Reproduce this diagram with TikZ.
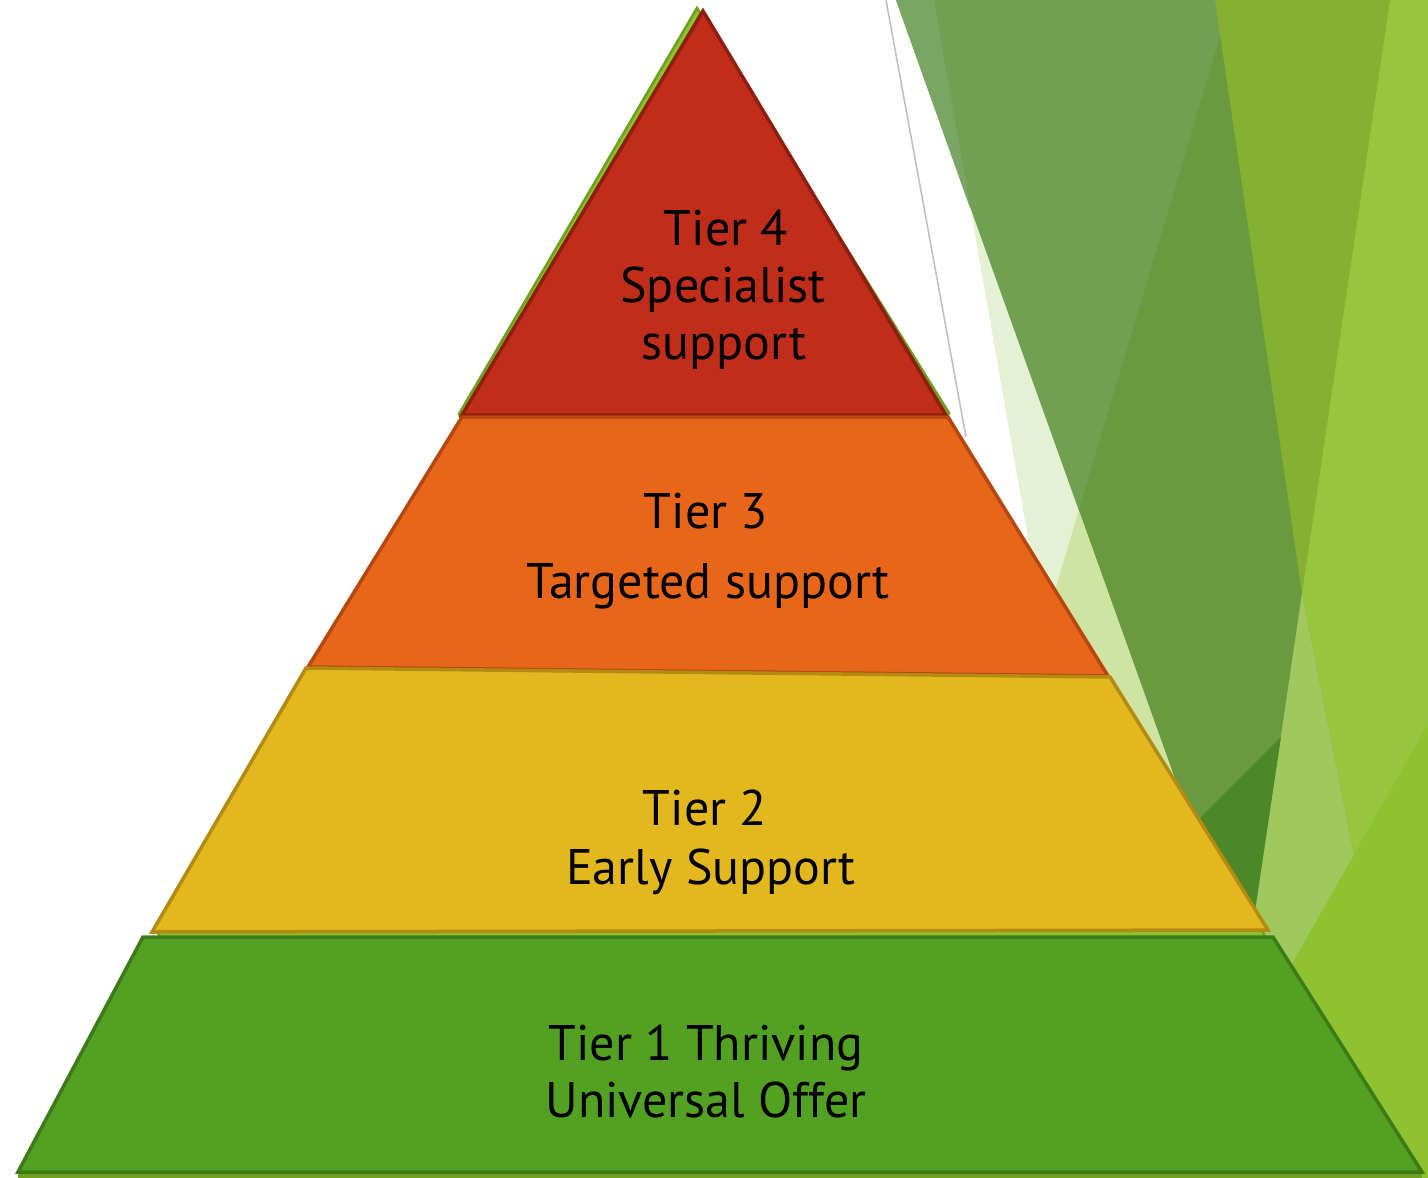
\documentclass[tikz,border=0pt]{standalone}
\usepackage{fontspec}
\setmainfont{PT Sans}
\begin{document}
\begin{tikzpicture}[x=1pt,y=-1pt,
  tierlabel/.style={anchor=base,inner sep=0pt,font=\fontsize{50}{60}\selectfont,text=black},
  tier/.style={line width=3.5pt,line join=miter},
  bgshape/.style={draw=none}]
\useasboundingbox (0,0) rectangle (1428,1178);
\fill[white] (0,0) rectangle (1428,1178);
% ---------- background facets ----------
\fill[bgshape,fill={rgb,255:red,230;green,240;blue,212}] (934,0) -- (1140,1178) -- (1428,1178) -- (1428,0) -- cycle;
\fill[bgshape,fill={rgb,255:red,114;green,160;blue,83}] (896,0) -- (1428,0) -- (1428,1178) -- (1318,1178) -- cycle;
\fill[bgshape,fill={rgb,255:red,122;green,165;blue,98}] (896,0) -- (934,0) -- (970,208) -- cycle;
\fill[bgshape,fill={rgb,255:red,207;green,227;blue,163}] (1079,510) -- (880,1178) -- (1318,1178) -- cycle;
\fill[bgshape,fill={rgb,255:red,106;green,154;blue,64}] (1231,0) -- (1428,0) -- (1428,1178) -- (1318,1178) -- (1079,510) -- cycle;
\fill[bgshape,fill={rgb,255:red,132;green,178;blue,48}] (1215,0) -- (1390,0) -- (1302,593) -- cycle;
\fill[bgshape,fill={rgb,255:red,151;green,197;blue,62}] (1390,0) -- (1428,0) -- (1428,1178) -- (1418,1178) -- (1302,593) -- cycle;
\fill[bgshape,fill={rgb,255:red,159;green,201;blue,94}] (1302,593) -- (1418,1178) -- (1216,1178) -- cycle;
\fill[bgshape,fill={rgb,255:red,76;green,136;blue,40}] (1281,737) -- (1192,826) -- (1245,976) -- cycle;
\fill[bgshape,fill={rgb,255:red,143;green,194;blue,48}] (1428,724) -- (1280,985) -- (1260,1178) -- (1428,1178) -- cycle;
\draw[line width=1.5pt,color={rgb,255:red,190;green,190;blue,190}] (886,0) -- (966,437);
% ---------- pyramid ----------
\fill[fill={rgb,255:red,111;green,160;blue,32}] (18,1174) rectangle (1422,1178);
\filldraw[fill={rgb,255:red,141;green,194;blue,46},draw={rgb,255:red,110;green,159;blue,31},line width=2.5pt]
  (697,8) -- (459,414) -- (462,420) -- (312,668) -- (158,932) -- (160,940) -- (1266,940) -- (1262,930)
  -- (1108,676) -- (946,420) -- (949,413) -- cycle;
\filldraw[tier,fill={rgb,255:red,193;green,45;blue,27},draw={rgb,255:red,142;green,30;blue,16}]
  (703,11) -- (946,415) -- (462,415) -- cycle;
\filldraw[tier,fill={rgb,255:red,232;green,102;blue,26},draw={rgb,255:red,181;green,71;blue,15}]
  (462,417) -- (948,417) -- (1108,676) -- (308,667) -- cycle;
\filldraw[tier,fill={rgb,255:red,227;green,184;blue,31},draw={rgb,255:red,179;green,138;blue,18}]
  (306,668) -- (1110,677) -- (1268,930) -- (152,932) -- cycle;
\filldraw[tier,fill={rgb,255:red,83;green,161;blue,34},draw={rgb,255:red,61;green,122;blue,24}]
  (143,937) -- (1273,937) -- (1422,1172) -- (18,1172) -- cycle;
% ---------- labels ----------
\node[tierlabel] (t4a) at (726,245) {Tier 4};
\node[tierlabel] (t4b) at (723,302) {Specialist};
\node[tierlabel] (t4c) at (724,359) {support};
\node[tierlabel] (t3a) at (706,528) {Tier 3};
\node[tierlabel] (t3b) at (708,598) {Targeted support};
\node[tierlabel] (t2a) at (705,825) {Tier 2};
\node[tierlabel] (t2b) at (711,884) {Early Support};
\node[tierlabel] (t1a) at (706,1060) {Tier 1 Thriving};
\node[tierlabel] (t1b) at (706,1117) {Universal Offer};
\end{tikzpicture}
\end{document}
